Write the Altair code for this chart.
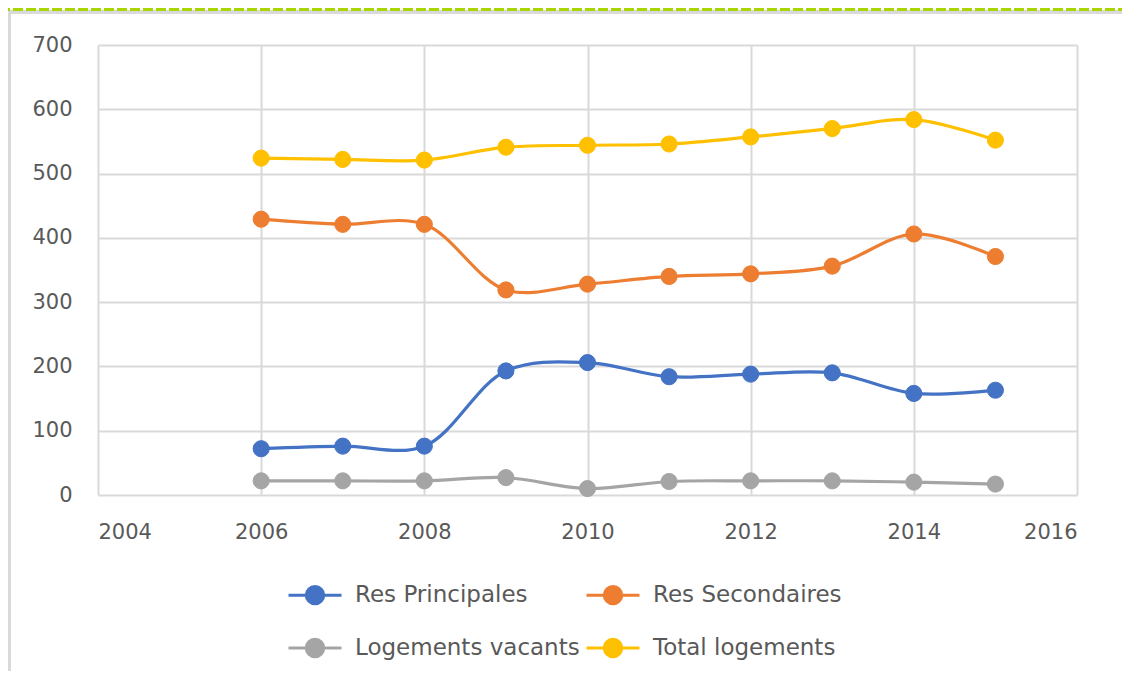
import altair as alt
import pandas as pd

years = [2006, 2007, 2008, 2009, 2010, 2011, 2012, 2013, 2014, 2015]
res_principales = [72, 76, 76, 193, 206, 184, 188, 190, 158, 163]
res_secondaires = [429, 421, 421, 319, 328, 340, 344, 356, 406, 371]
logements_vacants = [22, 22, 22, 27, 10, 21, 22, 22, 20, 17]
total_logements = [524, 522, 521, 541, 544, 546, 557, 570, 584, 552]

series_names = ["Res Principales", "Res Secondaires", "Logements vacants", "Total logements"]
series_colors = ["#4472C4", "#ED7D31", "#A5A5A5", "#FFC000"]
x_ticks = [2004, 2006, 2008, 2010, 2012, 2014, 2016]
y_ticks = [0, 100, 200, 300, 400, 500, 600, 700]

rows = []
for k, (name, vals) in enumerate(zip(series_names, [res_principales, res_secondaires, logements_vacants, total_logements])):
    for yr, v in zip(years, vals):
        rows.append({"year": yr, "value": v, "series": name, "order": k})
df = pd.DataFrame(rows)

# legend is laid out column by column: put names in that order
legend_order = [series_names[0], series_names[2], series_names[1], series_names[3]]
legend_colors = [series_colors[0], series_colors[2], series_colors[1], series_colors[3]]

FONT = "DejaVu Sans"
W, H = 979, 450
PAD_L, PAD_T, PAD_R, PAD_B = 90, 37, 45, 176

sym_path = "M-1,0H1M0.33,0A0.33,0.33,0,1,1,-0.33,0A0.33,0.33,0,1,1,0.33,0Z"

color_scale = alt.Scale(domain=legend_order, range=legend_colors)
legend = alt.Legend(
    title=None,
    orient="none",
    legendX=189,
    legendY=522,
    columns=2,
    symbolType=sym_path,
    symbolSize=2809,
    symbolStrokeWidth=3,
    labelFont=FONT,
    labelFontSize=23,
    labelColor="#595959",
    labelOffset=12,
    labelLimit=400,
    rowPadding=10,
    columnPadding=0,
    symbolOffset=0,
)

x_enc = alt.X("year:Q", scale=alt.Scale(domain=[2004, 2016], nice=False),
              axis=alt.Axis(values=x_ticks, format="d", title=None))
y_enc = alt.Y("value:Q", scale=alt.Scale(domain=[0, 700], nice=False),
              axis=alt.Axis(values=y_ticks, title=None))

lines = alt.Chart(df).mark_line(interpolate="catmull-rom", strokeWidth=3.2).encode(
    x=x_enc, y=y_enc,
    stroke=alt.Stroke("series:N", scale=color_scale, legend=legend),
    detail="series:N",
)
points = alt.Chart(df).mark_point(filled=True, size=260, opacity=1, strokeWidth=1).encode(
    x="year:Q", y="value:Q",
    fill=alt.Fill("series:N", scale=color_scale, legend=legend),
    stroke=alt.Stroke("series:N", scale=color_scale, legend=legend),
)

# outer frame decorations
frame_left = alt.Chart(df).mark_rule(color="#D9D9D9", strokeWidth=3).encode(
    x=alt.value(-PAD_L + 1.5), y=alt.value(-PAD_T + 3), y2=alt.value(H + PAD_B + 10))
frame_top = alt.Chart(df).mark_rule(color="#D9D9D9", strokeWidth=3).encode(
    x=alt.value(-PAD_L), x2=alt.value(W + PAD_R + 10), y=alt.value(-PAD_T + 4))
frame_green = alt.Chart(df).mark_rule(color="#A9D600", strokeWidth=3, strokeDash=[10, 3]).encode(
    x=alt.value(-PAD_L - 8), x2=alt.value(W + PAD_R + 10), y=alt.value(-PAD_T + 1))

chart = alt.layer(lines, points, frame_left, frame_top, frame_green).properties(
    width=W, height=H,
    autosize=alt.AutoSizeParams(type="none"),
    padding={"left": PAD_L, "top": PAD_T, "right": PAD_R, "bottom": PAD_B},
    background="white",
).configure_view(stroke=None).configure_axis(
    labelFont=FONT, labelFontSize=21, labelColor="#595959",
    gridColor="#D9D9D9", gridWidth=2, grid=True,
    domain=False, ticks=False,
).configure_axisY(labelPadding=26).configure_axisX(labelPadding=26)

chart.save("out.html", embed_options={"renderer": "svg", "actions": False})
